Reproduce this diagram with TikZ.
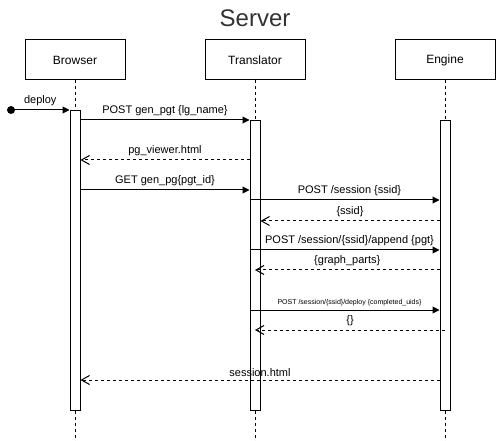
\documentclass[tikz,border=0pt]{standalone}
\usepackage{fontspec}
\setmainfont{Liberation Sans}
\usetikzlibrary{arrows.meta}

\tikzset{
  actor/.style={draw, line width=1pt, minimum width=100pt, minimum height=40pt, font=\fontsize{12}{14}\selectfont},
  activation/.style={draw, fill=white, line width=1pt, minimum width=10pt, anchor=north},
  lifeline/.style={line width=1pt, dash pattern=on 3pt off 3pt},
  msg/.style={line width=1pt, -{Triangle[length=7pt,width=7pt]}},
  reply/.style={line width=1pt, dash pattern=on 3pt off 3pt, -{Straight Barb[length=8pt,width=9pt]}},
  lbl/.style={font=\fontsize{11}{13}\selectfont, midway, above}
}

\begin{document}
\begin{tikzpicture}[x=1pt, y=-1pt]

            \useasboundingbox (0,0) rectangle (496,441);

            \node[font=\fontsize{24}{28}\selectfont, text=black!80] (title) at (255,18) {Server};

            \node[actor] (brw) at (75,60) {Browser};
            \node[actor] (trn) at (255,60) {Translator};
            \node[actor] (eng) at (445,60) {Engine};

            % lifelines
            \draw[lifeline] (brw.south) -- (75,441);
            \draw[lifeline] (trn.south) -- (255,441);
            \draw[lifeline] (eng.south) -- (445,441);

            % activation bars
            \node[activation, minimum height=300pt] (actB) at (75,110) {};
            \node[activation, minimum height=290pt] (actT) at (255,120) {};
            \node[activation, minimum height=290pt] (actE) at (445,120) {};

            \fill (11,110) circle (4pt) coordinate (start);
            \draw[msg] (start) -- (actB.west |- 0,110) node[lbl]{deploy};

            \draw[msg] (actB.east |- 0,120) -- (actT.west |- 0,120) node[lbl]{POST gen\_pgt \{lg\_name\}};
            \draw[reply] (actT.west |- 0,160) -- (actB.east |- 0,160) node[lbl]{pg\_viewer.html};
            \draw[msg] (actB.east |- 0,190) -- (actT.west |- 0,190) node[lbl]{GET gen\_pg\{pgt\_id\}};

            % translator <-> engine
            \draw[msg] (actT.west |- 0,200) -- (actE.west |- 0,200) node[lbl, xshift=5pt]{POST /session \{ssid\}};
            \draw[reply] (actE.west |- 0,221) -- (actT.east |- 0,221) node[lbl]{\{ssid\}};
            \draw[msg] (actT.west |- 0,250) -- (actE.west |- 0,250) node[lbl, xshift=5pt]{POST /session/\{ssid\}/append \{pgt\}};
            \draw[reply] (actE.west |- 0,270) -- (actT.center |- 0,270) node[lbl]{\{graph\_parts\}};
            \draw[msg] (actT.west |- 0,310) -- (actE.west |- 0,310) node[lbl, xshift=5pt, font=\fontsize{7}{8}\selectfont]{POST /session/\{ssid\}/deploy \{completed\_uids\}};
            \draw[reply] (actE.center |- 0,330) -- (actT.center |- 0,330) node[lbl]{\{\}};

            \draw[reply] (actE.west |- 0,380) -- (actB.east |- 0,380) node[lbl]{session.html};

\end{tikzpicture}
\end{document}
